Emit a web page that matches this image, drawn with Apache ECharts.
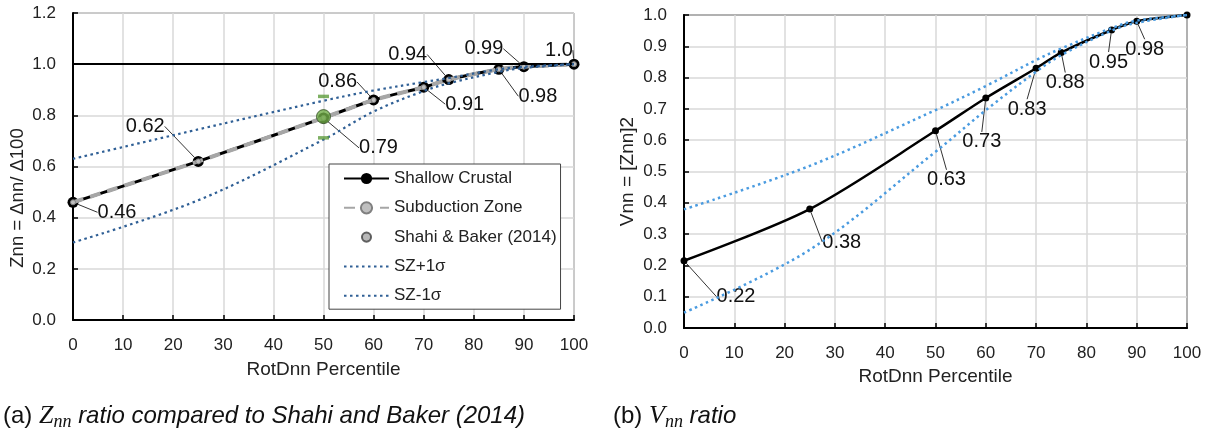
<!DOCTYPE html>
<html>
<head>
<meta charset="utf-8">
<script src="https://cdn.jsdelivr.net/npm/echarts@6/dist/echarts.min.js"></script>
<style>
html,body{margin:0;padding:0;background:#fff;}
#chart{width:1213px;height:436px;}
</style>
</head>
<body>
<div id="chart"></div>
<script>
// ---------- data ----------
const pct = [0, 25, 50, 60, 70, 75, 85, 90, 100];
const zShallow = [0.46, 0.62, 0.79, 0.86, 0.91, 0.94, 0.98, 0.99, 1.0];
const zSubduction = [0.46, 0.62, 0.79, 0.86, 0.91, 0.94, 0.98, 0.99, 1.0];
const zPlus = [0.63, 0.745, 0.857, 0.897, 0.93, 0.946, 0.98, 0.99, 1.0];
const zMinus = [0.303, 0.468, 0.705, 0.815, 0.895, 0.925, 0.97, 0.985, 1.0];
const zLabels = ['0.46', '0.62', '0.79', '0.86', '0.91', '0.94', '0.98', '0.99', '1.0'];
const shahiPct = [50];
const shahiZ = [0.795];
const shahiUpper = [0.874];
const shahiLower = [0.712];
const vShallow = [0.215, 0.38, 0.63, 0.735, 0.83, 0.88, 0.952, 0.98, 1.0];
const vPlus = [0.379, 0.518, 0.696, 0.773, 0.856, 0.893, 0.958, 0.982, 1.0];
const vMinus = [0.049, 0.25, 0.563, 0.696, 0.819, 0.872, 0.95, 0.975, 1.0];
const vLabels = ['0.22', '0.38', '0.63', '0.73', '0.83', '0.88', '0.95', '0.98', ''];
const refLine = [1.0];
const legendNames = ['Shallow Crustal', 'Subduction Zone', 'Shahi & Baker (2014)', 'SZ+1σ', 'SZ-1σ'];

// label offsets (style only, pixels relative to marker)
const zLabelOffsets = [[44, 10], [-53, -35], [55, 30], [-36, -18], [41, 17], [-41, -25], [39, 27], [-40, -18], [-15, -14]];
const vLabelOffsets = [[52, 36], [32, 33], [11, 49], [-4, 44], [-9, 41], [4, 30], [-3, 32], [8, 28], [0, 0]];

const pair = (xs, ys) => xs.map((x, i) => [x, ys[i]]);
const FONT = 'Liberation Sans, Arial, sans-serif';

function makeLayout(offsets) {
  return function (p) {
    const o = offsets[p.dataIndex];
    return {
      x: p.rect.x + p.rect.width / 2 + o[0],
      y: p.rect.y + p.rect.height / 2 + o[1],
      align: 'center',
      verticalAlign: 'middle'
    };
  };
}

const axisCommon = {
  axisLine: {show: true, onZero: false, lineStyle: {color: '#000', width: 2}},
  axisTick: {show: true, inside: true, length: 5, lineStyle: {color: '#000', width: 1.5}},
  axisLabel: {color: '#222', fontSize: 17, fontFamily: FONT, margin: 17},
  splitLine: {show: true, lineStyle: {color: '#d9d9d9', width: 1.5}}
};

const legendData = legendNames.map(n => {
  if (n.indexOf('SZ') === 0) return {name: n, itemStyle: {opacity: 0}};
  if (n.indexOf('Shahi') === 0) return {name: n, icon: 'path://M0,0M20,20M16.5,10A6.5,6.5,0,1,1,3.5,10A6.5,6.5,0,1,1,16.5,10Z'};
  return {name: n};
});

const capRich = {
  a: {fontSize: 24, fontFamily: FONT, fill: '#111', lineHeight: 30, verticalAlign: 'middle'},
  z: {fontSize: 26, fontFamily: 'Liberation Serif, serif', fontStyle: 'italic', fill: '#111', lineHeight: 30, verticalAlign: 'middle'},
  s: {fontSize: 18, fontFamily: 'Liberation Serif, serif', fontStyle: 'italic', fill: '#111', lineHeight: 18, verticalAlign: 'bottom'},
  i: {fontSize: 24, fontFamily: FONT, fontStyle: 'italic', fill: '#111', lineHeight: 30, verticalAlign: 'middle'}
};

const chart = echarts.init(document.getElementById('chart'), null, {renderer: 'canvas'});
const option = {
  animation: false,
  backgroundColor: '#fff',
  grid: [
    {left: 73, right: 639, top: 13, bottom: 116, show: true, borderColor: '#444', borderWidth: 1},
    {left: 684, right: 26, top: 15, bottom: 108, show: true, borderColor: '#000', borderWidth: 1.5}
  ],
  xAxis: [
    Object.assign({}, axisCommon, {gridIndex: 0, type: 'value', min: 0, max: 100, interval: 10,
      name: 'RotDnn Percentile', nameLocation: 'middle', nameGap: 40,
      nameTextStyle: {fontSize: 19, color: '#222', fontFamily: FONT}}),
    Object.assign({}, axisCommon, {gridIndex: 1, type: 'value', min: 0, max: 100, interval: 10,
      name: 'RotDnn Percentile', nameLocation: 'middle', nameGap: 35,
      nameTextStyle: {fontSize: 19, color: '#222', fontFamily: FONT}})
  ],
  yAxis: [
    Object.assign({}, axisCommon, {gridIndex: 0, type: 'value', min: 0, max: 1.2, interval: 0.2,
      axisLabel: Object.assign({}, axisCommon.axisLabel, {formatter: v => v.toFixed(1)})}),
    Object.assign({}, axisCommon, {gridIndex: 1, type: 'value', min: 0, max: 1.0, interval: 0.1,
      name: 'Vnn = [Znn]2', nameLocation: 'middle', nameGap: 47,
      nameTextStyle: {fontSize: 19, color: '#222', fontFamily: FONT},
      axisLabel: Object.assign({}, axisCommon.axisLabel, {formatter: v => v.toFixed(1)})})
  ],
  legend: {
    data: legendData,
    orient: 'vertical',
    left: 329, top: 164,
    padding: [6, 4, 5, 14],
    itemWidth: 45, itemHeight: 14, itemGap: 12.3,
    backgroundColor: '#fff',
    borderColor: '#444', borderWidth: 1,
    textStyle: {fontSize: 17, color: '#222', fontFamily: FONT},
    z: 10
  },
  graphic: [
    {type: 'text', z: 10, x: 18, y: 198, rotation: Math.PI / 2,
      style: {text: 'Znn = Δnn/ Δ100', fontSize: 18.5, fill: '#222', fontFamily: FONT, align: 'center', verticalAlign: 'middle'}},
    {type: 'text', left: 3, top: 403, z: 10,
      style: {text: '{a|(a) }{z|Z}{s|nn}{i| ratio compared to Shahi and Baker (2014)}', rich: capRich}},
    {type: 'text', left: 613, top: 403, z: 10,
      style: {text: '{a|(b) }{z|V}{s|nn}{i| ratio}', rich: capRich}}
  ],
  series: [
    // ----- left chart -----
    {
      name: 'Shallow Crustal', type: 'line', xAxisIndex: 0, yAxisIndex: 0,
      data: pair(pct, zShallow), smooth: 0.25,
      symbol: 'circle', symbolSize: 11, z: 3,
      lineStyle: {color: '#000', width: 3},
      itemStyle: {color: '#000'},
      label: {show: true, formatter: p => zLabels[p.dataIndex], fontSize: 20, color: '#111', fontFamily: FONT},
      labelLine: {show: true, lineStyle: {color: '#333', width: 1}},
      labelLayout: makeLayout(zLabelOffsets),
      markLine: {silent: true, symbol: 'none', label: {show: false},
        lineStyle: {color: '#000', width: 2, type: 'solid'},
        data: [{yAxis: refLine[0]}]}
    },
    {
      name: 'Subduction Zone', type: 'line', xAxisIndex: 0, yAxisIndex: 0,
      data: pair(pct, zSubduction), smooth: 0.25,
      symbol: 'circle', symbolSize: 5, z: 4,
      lineStyle: {color: '#a6a6a6', width: 4, type: [11, 7]},
      itemStyle: {color: '#bfbfbf', borderColor: '#808080', borderWidth: 1}
    },
    {
      name: 'SZ+1σ', type: 'line', xAxisIndex: 0, yAxisIndex: 0,
      data: pair(pct, zPlus), smooth: 0.35, symbol: 'none', z: 5,
      lineStyle: {color: '#2f5f95', width: 2.2, type: [2.5, 3.5]},
      itemStyle: {color: '#2f5f95'}
    },
    {
      name: 'SZ-1σ', type: 'line', xAxisIndex: 0, yAxisIndex: 0,
      data: pair(pct, zMinus), smooth: 0.35, symbol: 'none', z: 5,
      lineStyle: {color: '#2f5f95', width: 2.2, type: [2.5, 3.5]},
      itemStyle: {color: '#2f5f95'}
    },
    {
      name: 'Shahi cap', type: 'scatter', xAxisIndex: 0, yAxisIndex: 0,
      data: pair(shahiPct, shahiUpper).concat(pair(shahiPct, shahiLower)),
      symbol: 'rect', symbolSize: [11, 3.5], z: 6,
      itemStyle: {color: '#5e9c3c'}
    },
    {
      name: 'Shahi & Baker (2014)', type: 'scatter', xAxisIndex: 0, yAxisIndex: 0,
      data: pair(shahiPct, shahiZ).map(d => ({value: d, itemStyle: {color: '#70ad47', borderColor: '#2e4a1e', borderWidth: 1}})),
      symbol: 'circle', symbolSize: 14, z: 7,
      itemStyle: {color: '#a6a6a6', borderColor: '#404040', borderWidth: 1}
    },
    // ----- right chart -----
    {
      name: 'Vnn-1σ', type: 'line', xAxisIndex: 1, yAxisIndex: 1,
      data: pair(pct, vMinus), smooth: 0.35, symbol: 'none', z: 5,
      lineStyle: {color: '#4a9be0', width: 2.5, type: [2.5, 3.5]}
    },
    {
      name: 'Vnn+1σ', type: 'line', xAxisIndex: 1, yAxisIndex: 1,
      data: pair(pct, vPlus), smooth: 0.35, symbol: 'none', z: 5,
      lineStyle: {color: '#4a9be0', width: 2.5, type: [2.5, 3.5]}
    },
    {
      name: 'Vnn', type: 'line', xAxisIndex: 1, yAxisIndex: 1,
      data: pair(pct, vShallow), smooth: 0.3,
      symbol: 'circle', symbolSize: 7, z: 4,
      lineStyle: {color: '#000', width: 2.5},
      itemStyle: {color: '#000'},
      label: {show: true, formatter: p => vLabels[p.dataIndex], fontSize: 20, color: '#111', fontFamily: FONT},
      labelLine: {show: true, lineStyle: {color: '#333', width: 1}},
      labelLayout: makeLayout(vLabelOffsets)
    }
  ]
};
chart.setOption(option);
</script>
</body>
</html>
